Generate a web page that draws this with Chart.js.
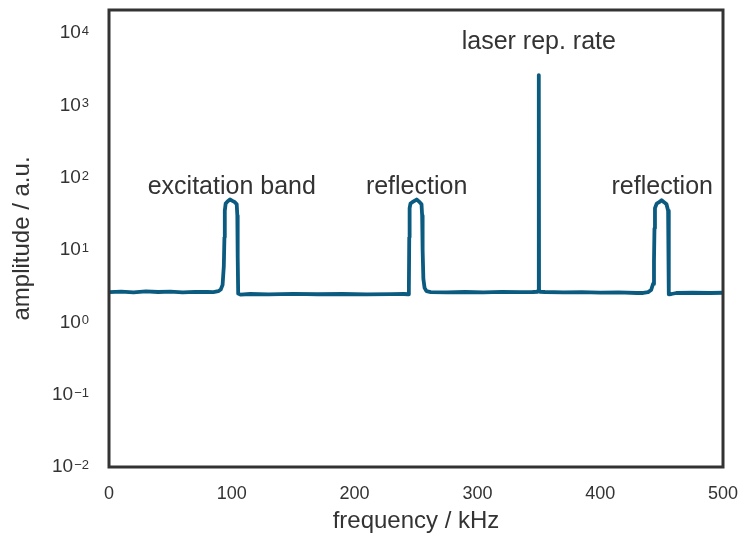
<!DOCTYPE html>
<html>
<head>
<meta charset="utf-8">
<script src="https://cdn.jsdelivr.net/npm/chart.js@4"></script>
<style>
  html, body { margin: 0; padding: 0; background: #fff; }
  #wrap { width: 741px; height: 541px; }
</style>
</head>
<body>
<div id="wrap"><canvas id="spectrum" width="741" height="541"></canvas></div>
<script>
// frequency in kHz, amplitude in a.u.
var freq = [
  0, 10, 20, 30, 40, 50, 60, 70, 80, 85, 89, 91, 92.5, 93.5, 94, 94.3, 95, 96.5, 98.5, 100.5, 102.5, 104, 104.5, 104.8, 105.2, 107,
  115, 130, 150, 170, 190, 210, 230, 240, 243.5, 244.2, 244.5, 244.8, 245.5, 247, 250.5, 253, 254.5, 255, 255.4, 256, 257, 258.5, 262,
  275, 290, 305, 320, 335, 345, 349, 349.8, 350, 350.2, 351, 355, 370, 385, 400, 415, 430, 435, 439, 441.5, 443, 443.8, 444.2, 444.6,
  446, 448, 450, 452, 454, 455.3, 455.7, 456, 458, 462, 475, 490, 500
];
var amp = [
  2.62, 2.66, 2.6, 2.68, 2.63, 2.66, 2.6, 2.65, 2.63, 2.62, 2.7, 2.85, 3.3, 6, 15, 35, 44, 47, 50, 48, 46, 43, 30, 8, 2.5, 2.42,
  2.47, 2.44, 2.48, 2.45, 2.47, 2.44, 2.46, 2.47, 2.45, 3, 15, 38, 44, 46, 50, 46, 43, 30, 10, 4, 3, 2.7, 2.62,
  2.6, 2.63, 2.6, 2.64, 2.62, 2.63, 2.65, 2.8, 2630, 2.8, 2.65, 2.63, 2.6, 2.62, 2.58, 2.6, 2.55, 2.55, 2.62, 2.8, 3.4, 7, 20, 38,
  44, 46, 49, 46, 43, 35, 10, 2.45, 2.47, 2.55, 2.57, 2.55, 2.57
];

var yTickExp = [-2, -1, 0, 1, 2, 3, 4];
var xTicks = [0, 100, 200, 300, 400, 500];

var noteText = ['excitation band', 'reflection', 'laser rep. rate', 'reflection'];
var noteX = [100, 250.5, 350, 450.5];
var noteY = [74, 74, 7500, 74];

var LINE = '#0b5a80';
var INK = '#333333';
var FONT = "'Liberation Sans', Arial, sans-serif";

function noPad(scale) {
  scale.paddingTop = 0;
  scale.paddingBottom = 0;
  scale.paddingLeft = 0;
  scale.paddingRight = 0;
}

// box round the plot, 10^n tick labels and the text labels
var framePlugin = {
  id: 'frame',
  afterDatasetsDraw: function (chart) {
    var ctx = chart.ctx, a = chart.chartArea;
    var xs = chart.scales.x, ys = chart.scales.y;
    ctx.save();
    ctx.strokeStyle = INK;
    ctx.lineWidth = 3;
    ctx.strokeRect(a.left, a.top, a.right - a.left, a.bottom - a.top);

    ctx.fillStyle = INK;
    yTickExp.forEach(function (e) {
      var y = ys.getPixelForValue(Math.pow(10, e));
      var right = a.left - 20;
      var expText = String(e).replace('-', '\u2212');
      ctx.font = '13px ' + FONT;
      var w = ctx.measureText(expText).width;
      ctx.textAlign = 'left';
      ctx.textBaseline = 'alphabetic';
      ctx.fillText(expText, right - w, y + 2);
      ctx.font = '19px ' + FONT;
      ctx.textAlign = 'right';
      ctx.textBaseline = 'middle';
      ctx.fillText('10', right - w - 1, y);
    });

    ctx.font = '25px ' + FONT;
    ctx.textAlign = 'center';
    ctx.textBaseline = 'middle';
    for (var i = 0; i < noteText.length; i++) {
      ctx.fillText(noteText[i], xs.getPixelForValue(noteX[i]), ys.getPixelForValue(noteY[i]));
    }
    ctx.restore();
  }
};

new Chart(document.getElementById('spectrum').getContext('2d'), {
  type: 'line',
  data: {
    datasets: [{
      data: freq.map(function (f, i) { return { x: f, y: amp[i] }; }),
      borderColor: LINE,
      borderWidth: 3.8,
      borderJoinStyle: 'round',
      borderCapStyle: 'round',
      pointRadius: 0,
      tension: 0,
      fill: false
    }]
  },
  options: {
    responsive: false,
    animation: false,
    devicePixelRatio: 1,
    layout: { padding: { left: 0, top: 10, right: 18, bottom: 0 } },
    plugins: {
      legend: { display: false },
      tooltip: { enabled: false }
    },
    scales: {
      x: {
        type: 'linear',
        min: 0,
        max: 500,
        grid: { display: false, drawTicks: false },
        border: { display: false },
        afterBuildTicks: function (scale) {
          scale.ticks = xTicks.map(function (v) { return { value: v }; });
        },
        afterFit: function (scale) { scale.height = 74; noPad(scale); },
        ticks: {
          padding: 16,
          color: INK,
          font: { family: FONT, size: 18 },
          maxRotation: 0
        },
        title: {
          display: true,
          text: 'frequency / kHz',
          color: INK,
          font: { family: FONT, size: 24 },
          padding: { top: 0, bottom: 5 }
        }
      },
      y: {
        type: 'logarithmic',
        min: 0.01,
        max: 20900,
        grid: { display: false, drawTicks: false },
        border: { display: false },
        afterBuildTicks: function (scale) {
          scale.ticks = yTickExp.map(function (e) { return { value: Math.pow(10, e) }; });
        },
        afterFit: function (scale) { scale.width = 109; noPad(scale); },
        ticks: {
          padding: 19,
          color: INK,
          font: { family: FONT, size: 18 },
          callback: function () { return ''; }
        },
        title: {
          display: true,
          text: 'amplitude / a.u.',
          color: INK,
          font: { family: FONT, size: 24 },
          padding: { top: 8, bottom: 0 }
        }
      }
    }
  },
  plugins: [framePlugin]
});
</script>
</body>
</html>
